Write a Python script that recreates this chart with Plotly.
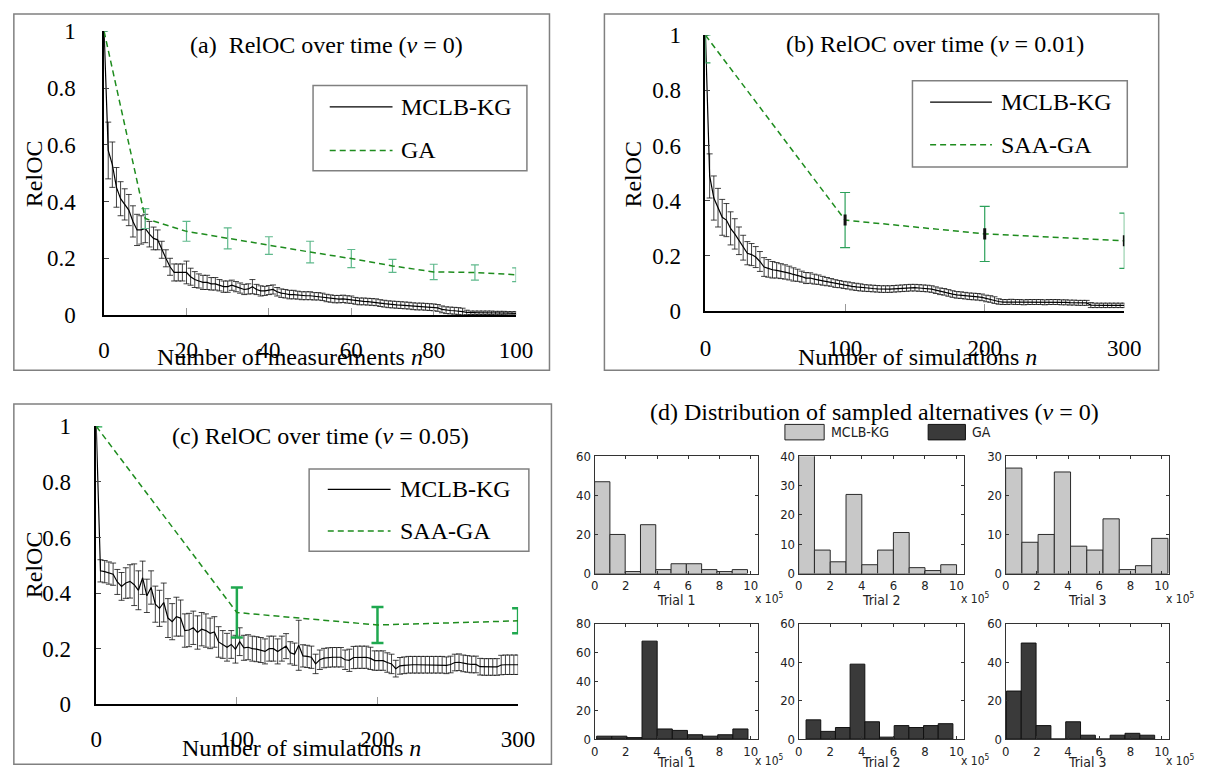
import plotly.graph_objects as go

W, H = 1211, 784
SERIF = "Liberation Serif, Times New Roman, serif"
NARROW = "Liberation Sans Narrow, Arial Narrow, DejaVu Sans Condensed, sans-serif"

# ---------------- data: panel (a) ----------------
n_a = list(range(0, 101))
mclb_a = [1.00, 0.58, 0.53, 0.45, 0.41, 0.39, 0.37, 0.33, 0.30, 0.30,
          0.305, 0.285, 0.27, 0.265, 0.23, 0.20, 0.17, 0.15, 0.15, 0.15,
          0.15, 0.135, 0.125, 0.12, 0.115, 0.115, 0.11, 0.11, 0.105, 0.10,
          0.10, 0.105, 0.10, 0.095, 0.09, 0.092, 0.10, 0.09, 0.085, 0.085,
          0.088, 0.09, 0.082, 0.077, 0.075, 0.072, 0.072, 0.07, 0.068, 0.068,
          0.068, 0.066, 0.066, 0.064, 0.06, 0.058, 0.056, 0.056, 0.057, 0.055,
          0.054, 0.05, 0.048, 0.048, 0.047, 0.046, 0.045, 0.042, 0.04, 0.038,
          0.037, 0.036, 0.035, 0.034, 0.033, 0.031, 0.03, 0.03, 0.029, 0.028,
          0.027, 0.025, 0.02, 0.017, 0.016, 0.015, 0.014, 0.012, 0.009, 0.008,
          0.008, 0.008, 0.008, 0.008, 0.008, 0.007, 0.007, 0.007, 0.006, 0.006,
          0.006]
mclb_a_err = [0.0, 0.10, 0.08, 0.07, 0.06, 0.055, 0.055, 0.055, 0.055, 0.05,
              0.05, 0.045, 0.04, 0.035, 0.03, 0.03, 0.03, 0.03, 0.03, 0.03,
              0.04, 0.03, 0.028, 0.025, 0.025, 0.025, 0.022, 0.022, 0.02, 0.02,
              0.02, 0.018, 0.018, 0.018, 0.018, 0.018, 0.025, 0.018, 0.018, 0.016,
              0.016, 0.016, 0.015, 0.015, 0.015, 0.015, 0.015, 0.014, 0.014, 0.014,
              0.014, 0.013, 0.013, 0.013, 0.013, 0.013, 0.013, 0.013, 0.013, 0.013,
              0.013, 0.012, 0.012, 0.012, 0.012, 0.012, 0.012, 0.012, 0.012, 0.012,
              0.012, 0.012, 0.012, 0.012, 0.012, 0.012, 0.012, 0.012, 0.012, 0.012,
              0.012, 0.012, 0.012, 0.012, 0.012, 0.012, 0.012, 0.012, 0.008, 0.006,
              0.006, 0.006, 0.006, 0.006, 0.006, 0.006, 0.006, 0.006, 0.006, 0.006,
              0.006]
ga_n_a = [0, 10, 20, 30, 40, 50, 60, 70, 80, 90, 100]
ga_a = [1.0, 0.34, 0.295, 0.27, 0.245, 0.222, 0.199, 0.173, 0.152, 0.15, 0.142]
ga_a_err = [0.0, 0.035, 0.035, 0.037, 0.031, 0.038, 0.032, 0.023, 0.027, 0.027, 0.024]

# ---------------- data: panel (b) ----------------
n_b = list(range(0, 301, 3))
mclb_b = [1.00, 0.49, 0.41, 0.375, 0.34, 0.33, 0.30, 0.28, 0.255, 0.23,
          0.21, 0.205, 0.196, 0.18, 0.16, 0.155, 0.15, 0.148, 0.145, 0.142,
          0.138, 0.133, 0.13, 0.125, 0.12, 0.12, 0.116, 0.114, 0.11, 0.107,
          0.104, 0.10, 0.098, 0.095, 0.093, 0.09, 0.088, 0.086, 0.084, 0.083,
          0.082, 0.081, 0.08, 0.08, 0.08, 0.081, 0.082, 0.083, 0.084, 0.085,
          0.085, 0.084, 0.083, 0.082, 0.08, 0.076, 0.072, 0.07, 0.066, 0.062,
          0.059, 0.058, 0.056, 0.054, 0.053, 0.052, 0.05, 0.046, 0.044, 0.04,
          0.035, 0.033, 0.033, 0.034, 0.033, 0.033, 0.032, 0.033, 0.033, 0.033,
          0.033, 0.032, 0.033, 0.033, 0.033, 0.032, 0.032, 0.031, 0.031, 0.03,
          0.03, 0.03, 0.022, 0.021, 0.021, 0.021, 0.021, 0.021, 0.021, 0.021,
          0.021]
mclb_b_err = [0.0, 0.08, 0.08, 0.07, 0.065, 0.06, 0.06, 0.055, 0.05, 0.045,
              0.042, 0.04, 0.038, 0.036, 0.034, 0.032, 0.03, 0.028, 0.027, 0.026,
              0.025, 0.024, 0.022, 0.02, 0.02, 0.019, 0.018, 0.017, 0.016, 0.015,
              0.014, 0.014, 0.013, 0.013, 0.013, 0.013, 0.013, 0.013, 0.012, 0.012,
              0.012, 0.012, 0.012, 0.012, 0.012, 0.012, 0.012, 0.012, 0.012, 0.012,
              0.012, 0.012, 0.012, 0.012, 0.012, 0.012, 0.012, 0.012, 0.012, 0.012,
              0.012, 0.012, 0.012, 0.012, 0.012, 0.012, 0.012, 0.012, 0.012, 0.012,
              0.01, 0.009, 0.009, 0.009, 0.009, 0.009, 0.009, 0.009, 0.009, 0.009,
              0.009, 0.009, 0.009, 0.009, 0.009, 0.009, 0.009, 0.009, 0.009, 0.009,
              0.009, 0.009, 0.009, 0.008, 0.008, 0.008, 0.008, 0.008, 0.008, 0.008,
              0.008]
ga_n_b = [0, 100, 200, 300]
ga_b = [1.0, 0.33, 0.28, 0.255]
ga_b_err_up = [0.0, 0.10, 0.10, 0.10]
ga_b_err_dn = [0.10, 0.10, 0.10, 0.10]
ga_b_se = [0.0, 0.02, 0.02, 0.02]

# ---------------- data: panel (c) ----------------
n_c = list(range(0, 301, 3))
mclb_c = [1.00, 0.48, 0.477, 0.472, 0.468, 0.44, 0.424, 0.436, 0.442, 0.43,
          0.41, 0.455, 0.39, 0.42, 0.36, 0.345, 0.366, 0.31, 0.297, 0.315,
          0.31, 0.265, 0.267, 0.275, 0.258, 0.27, 0.265, 0.255, 0.26, 0.224,
          0.215, 0.205, 0.215, 0.198, 0.225, 0.203, 0.205, 0.20, 0.198, 0.195,
          0.19, 0.20, 0.20, 0.19, 0.20, 0.209, 0.185, 0.18, 0.212, 0.174,
          0.172, 0.169, 0.145, 0.16, 0.166, 0.168, 0.169, 0.169, 0.169, 0.16,
          0.158, 0.168, 0.169, 0.169, 0.169, 0.165, 0.157, 0.157, 0.157, 0.15,
          0.145, 0.128, 0.138, 0.14, 0.142, 0.142, 0.142, 0.142, 0.142, 0.142,
          0.142, 0.142, 0.142, 0.14, 0.143, 0.15, 0.151, 0.147, 0.145, 0.143,
          0.143, 0.135, 0.134, 0.134, 0.134, 0.134, 0.141, 0.142, 0.142, 0.142,
          0.142]
mclb_c_err = [0.0, 0.04, 0.04, 0.04, 0.04, 0.045, 0.05, 0.055, 0.06, 0.075,
              0.07, 0.06, 0.06, 0.06, 0.065, 0.065, 0.07, 0.07, 0.065, 0.07,
              0.065, 0.06, 0.06, 0.06, 0.06, 0.06, 0.06, 0.055, 0.055, 0.055,
              0.05, 0.05, 0.05, 0.05, 0.05, 0.045, 0.045, 0.045, 0.045, 0.045,
              0.045, 0.045, 0.045, 0.045, 0.045, 0.045, 0.04, 0.04, 0.09, 0.04,
              0.04, 0.04, 0.035, 0.035, 0.035, 0.035, 0.035, 0.035, 0.035, 0.035,
              0.04, 0.04, 0.04, 0.04, 0.04, 0.04, 0.035, 0.035, 0.035, 0.035,
              0.035, 0.03, 0.03, 0.03, 0.03, 0.03, 0.03, 0.03, 0.03, 0.03,
              0.03, 0.03, 0.03, 0.03, 0.03, 0.03, 0.03, 0.03, 0.03, 0.03,
              0.03, 0.03, 0.03, 0.03, 0.03, 0.03, 0.035, 0.035, 0.035, 0.035,
              0.035]
ga_n_c = [0, 100, 200, 300]
ga_c = [1.0, 0.33, 0.285, 0.30]
ga_c_err = [0.0, 0.09, 0.065, 0.045]

# ---------------- data: panel (d) histograms ----------------
hist_x_ticks = [0, 2, 4, 6, 8, 10]
mclb_t1 = [47, 20, 1, 25, 2, 5, 5, 2, 1, 2]
mclb_t2 = [41, 8, 4, 27, 3, 8, 14, 2, 1, 3]
mclb_t3 = [27, 8, 10, 26, 7, 6, 14, 1, 2, 9]
ga_t1 = [2, 2, 1, 68, 7, 6, 3, 2, 3, 7]
ga_t2 = [10, 4, 6, 39, 9, 1, 7, 6, 7, 8]
ga_t3 = [25, 50, 7, 0, 9, 2, 0, 2, 3, 2]
# (first bin edge, bin width) in units of 10^5
mclb_bins = [(0.0, 0.98), (0.0, 1.0), (0.0, 1.04)]
ga_bins = [(0.13, 0.97), (0.47, 0.93), (0.05, 0.95)]
mclb_ymax = [60, 40, 30]
mclb_dtick = [20, 10, 10]
ga_ymax = [80, 60, 60]
ga_dtick = [20, 20, 20]
trial_labels = ["Trial 1", "Trial 2", "Trial 3"]


def fx(x):
    return x / W


def fy(y):
    return 1 - y / H


fig = go.Figure()

# ---- panel (a) traces
fig.add_trace(go.Scatter(x=n_a, y=mclb_a, mode="lines", line=dict(color="black", width=1.2),
                         error_y=dict(type="data", array=mclb_a_err, color="#111", thickness=0.8, width=3),
                         xaxis="x", yaxis="y", showlegend=False))
fig.add_trace(go.Scatter(x=ga_n_a, y=ga_a, mode="lines", line=dict(color="#1e8c1e", width=1.5, dash="6px,4px"),
                         error_y=dict(type="data", array=ga_a_err, color="#5fb98c", thickness=1.2, width=4),
                         xaxis="x", yaxis="y", showlegend=False))

# ---- panel (b) traces
fig.add_trace(go.Scatter(x=n_b, y=mclb_b, mode="lines", line=dict(color="black", width=1.2),
                         error_y=dict(type="data", array=mclb_b_err, color="#111", thickness=0.8, width=3),
                         xaxis="x2", yaxis="y2", showlegend=False))
fig.add_trace(go.Scatter(x=ga_n_b, y=ga_b, mode="lines", line=dict(color="#1e8c1e", width=1.5, dash="6px,4px"),
                         error_y=dict(type="data", array=ga_b_err_up, arrayminus=ga_b_err_dn,
                                      color="#2ca05a", thickness=1.2, width=5),
                         xaxis="x2", yaxis="y2", showlegend=False))
fig.add_trace(go.Scatter(x=ga_n_b, y=ga_b, mode="none",
                         error_y=dict(type="data", array=ga_b_se, color="#111", thickness=3, width=0),
                         xaxis="x2", yaxis="y2", showlegend=False))

# ---- panel (c) traces
fig.add_trace(go.Scatter(x=n_c, y=mclb_c, mode="lines", line=dict(color="black", width=1.2),
                         error_y=dict(type="data", array=mclb_c_err, color="#111", thickness=0.8, width=3),
                         xaxis="x3", yaxis="y3", showlegend=False))
fig.add_trace(go.Scatter(x=ga_n_c, y=ga_c, mode="lines", line=dict(color="#1e8c1e", width=1.5, dash="6px,4px"),
                         error_y=dict(type="data", array=ga_c_err, color="#1fa84f", thickness=2.5, width=6),
                         xaxis="x3", yaxis="y3", showlegend=False))

# ---- histograms
HX = [(600, 767), (808, 977), (1019, 1186)]
HY = [(459, 580), (632, 751)]
rows = [
    ([mclb_t1, mclb_t2, mclb_t3], mclb_bins, mclb_ymax, mclb_dtick, "#c8c8c8", "#2a2a2a"),
    ([ga_t1, ga_t2, ga_t3], ga_bins, ga_ymax, ga_dtick, "#3a3a3a", "#111111"),
]

layout_axes = {}
ax_id = 4
for r, (vals_list, bins, ymaxs, dticks, fill, edge) in enumerate(rows):
    for c in range(3):
        vals = vals_list[c]
        start, w = bins[c]
        centers = [start + (i + 0.5) * w for i in range(len(vals))]
        fig.add_trace(go.Bar(x=centers, y=vals, width=w,
                             marker=dict(color=fill, line=dict(color=edge, width=1)),
                             xaxis="x%d" % ax_id, yaxis="y%d" % ax_id, showlegend=False))
        x0, x1 = HX[c]
        y0, y1 = HY[r]
        layout_axes["xaxis%d" % ax_id] = dict(
            domain=[fx(x0), fx(x1)], range=[0, 10.5], tickvals=hist_x_ticks,
            showline=True, mirror="ticks", linecolor="#333", linewidth=1,
            ticks="inside", ticklen=3, tickcolor="#333",
            tickfont=dict(family=NARROW, size=13, color="#222"),
            showgrid=False, zeroline=False, anchor="y%d" % ax_id, fixedrange=True)
        layout_axes["yaxis%d" % ax_id] = dict(
            domain=[fy(y1), fy(y0)], range=[0, ymaxs[c]], tick0=0, dtick=dticks[c],
            showline=True, mirror="ticks", linecolor="#333", linewidth=1,
            ticks="inside", ticklen=3, tickcolor="#333",
            tickfont=dict(family=NARROW, size=13, color="#222"),
            showgrid=False, zeroline=False, anchor="x%d" % ax_id, fixedrange=True)
        ax_id += 1


def main_axes(xdom_px, ydom_px, xr, xticks, ystand, xstand, anchor_x, anchor_y):
    xa = dict(domain=[fx(xdom_px[0]), fx(xdom_px[1])], range=xr, tickvals=xticks,
              ticktext=[str(t) for t in xticks],
              showline=True, linecolor="black", linewidth=1.5,
              ticks="inside", ticklen=7, tickcolor="#999", tickwidth=1,
              tickfont=dict(family=SERIF, size=23, color="black"),
              ticklabelstandoff=xstand,
              showgrid=False, zeroline=False, anchor=anchor_y, fixedrange=True)
    ya = dict(domain=[fy(ydom_px[1]), fy(ydom_px[0])], range=[0, 1],
              tickvals=[0, 0.2, 0.4, 0.6, 0.8, 1.0],
              ticktext=["0", "0.2", "0.4", "0.6", "0.8", "1"],
              showline=True, linecolor="black", linewidth=1.5,
              ticks="inside", ticklen=5, tickcolor="#444", tickwidth=1,
              tickfont=dict(family=SERIF, size=23, color="black"),
              ticklabelstandoff=ystand,
              showgrid=False, zeroline=False, anchor=anchor_x, fixedrange=True)
    return xa, ya


xa1, ya1 = main_axes((100, 520), (20, 313), [0, 100], [0, 20, 40, 60, 80, 100], 22, 14, "x", "y")
xa2, ya2 = main_axes((713, 1140), (24, 309), [0, 300], [0, 100, 200, 300], 18, 16, "x2", "y2")
xa3, ya3 = main_axes((92, 522), (428, 715), [0, 300], [0, 100, 200, 300], 19, 13, "x3", "y3")

shapes = []
annotations = []


def ann(x, y, text, size, family=SERIF, xanchor="center", yanchor="middle", angle=0, color="black"):
    annotations.append(dict(x=fx(x), y=fy(y), xref="paper", yref="paper", text=text, showarrow=False,
                            font=dict(family=family, size=size, color=color),
                            xanchor=xanchor, yanchor=yanchor, textangle=angle))


def rect(x0, y0, x1, y1, color="#808080", width=1.5, fill=None):
    shapes.append(dict(type="rect", xref="paper", yref="paper",
                       x0=fx(x0), x1=fx(x1), y0=fy(y1), y1=fy(y0),
                       line=dict(color=color, width=width),
                       fillcolor=fill if fill else "rgba(0,0,0,0)"))


def hline(x0, x1, y, color, width, dash=None):
    d = dict(color=color, width=width)
    if dash:
        d["dash"] = dash
    shapes.append(dict(type="line", xref="paper", yref="paper",
                       x0=fx(x0), x1=fx(x1), y0=fy(y), y1=fy(y), line=d))


# outer frames
rect(8, 2, 554, 370)
rect(610, 2, 1175, 370)
rect(8, 405, 556, 777)

# panel titles
ann(327, 34, "(a)\u00a0\u00a0RelOC over time (<i>v</i> = 0)", 24)
ann(947, 33, "(b) RelOC over time (<i>v</i> = 0.01)", 24)
ann(321, 438, "(c) RelOC over time (<i>v</i> = 0.05)", 24)
ann(885, 413, "(d) Distribution of sampled alternatives (<i>v</i> = 0)", 24)

# axis titles
ann(290, 356, "Number of measurements <i>n</i>", 24)
ann(929, 356, "Number of simulations <i>n</i>", 24)
ann(301, 760, "Number of simulations <i>n</i>", 24)
ann(28, 167, "RelOC", 24, angle=-90)
ann(639, 167, "RelOC", 24, angle=-90)
ann(28, 571, "RelOC", 24, angle=-90)

# legends of panels (a)-(c)
legend_specs = [
    ((313, 76, 531, 164), (98, 143), (330, 394), 401, ["MCLB-KG", "GA"]),
    ((924, 71, 1143, 160), (93, 137), (942, 1005), 1012, ["MCLB-KG", "SAA-GA"]),
    ((309, 472, 533, 557), (493, 536), (328, 392), 400, ["MCLB-KG", "SAA-GA"]),
]
for box, rowy, linex, textx, labels in legend_specs:
    rect(*box, color="#808080", width=1.5)
    hline(linex[0], linex[1], rowy[0], "black", 1.2)
    hline(linex[0], linex[1], rowy[1], "#1e8c1e", 1.5, dash="6px,4px")
    ann(textx, rowy[0], labels[0], 24, xanchor="left")
    ann(textx, rowy[1], labels[1], 24, xanchor="left")

# legend of panel (d)
rect(794, 426, 834, 442, color="#222", width=1, fill="#c8c8c8")
ann(839, 434, "MCLB-KG", 14, family=NARROW, xanchor="left", color="#222")
rect(940, 426, 978, 442, color="#111", width=1, fill="#3a3a3a")
ann(983, 434, "GA", 14, family=NARROW, xanchor="left", color="#222")

# histogram labels
for r, ty in enumerate([607, 775]):
    for c in range(3):
        x0, x1 = HX[c]
        ann((x0 + x1) / 2, ty, trial_labels[c], 14, family=NARROW, color="#222")
        ann(x1 - 6, ty - 2, "x 10<sup>5</sup>", 12, family=NARROW, xanchor="left", color="#222")

fig.update_layout(
    width=W, height=H, margin=dict(l=0, r=0, t=0, b=0),
    paper_bgcolor="white", plot_bgcolor="white",
    showlegend=False,
    xaxis=xa1, yaxis=ya1, xaxis2=xa2, yaxis2=ya2, xaxis3=xa3, yaxis3=ya3,
    shapes=shapes, annotations=annotations,
    **layout_axes,
)

fig.write_html("out.html", config={"displayModeBar": False},
               post_script="document.body.style.margin='0';document.body.style.padding='0';"
                           "document.documentElement.style.overflow='hidden';")
